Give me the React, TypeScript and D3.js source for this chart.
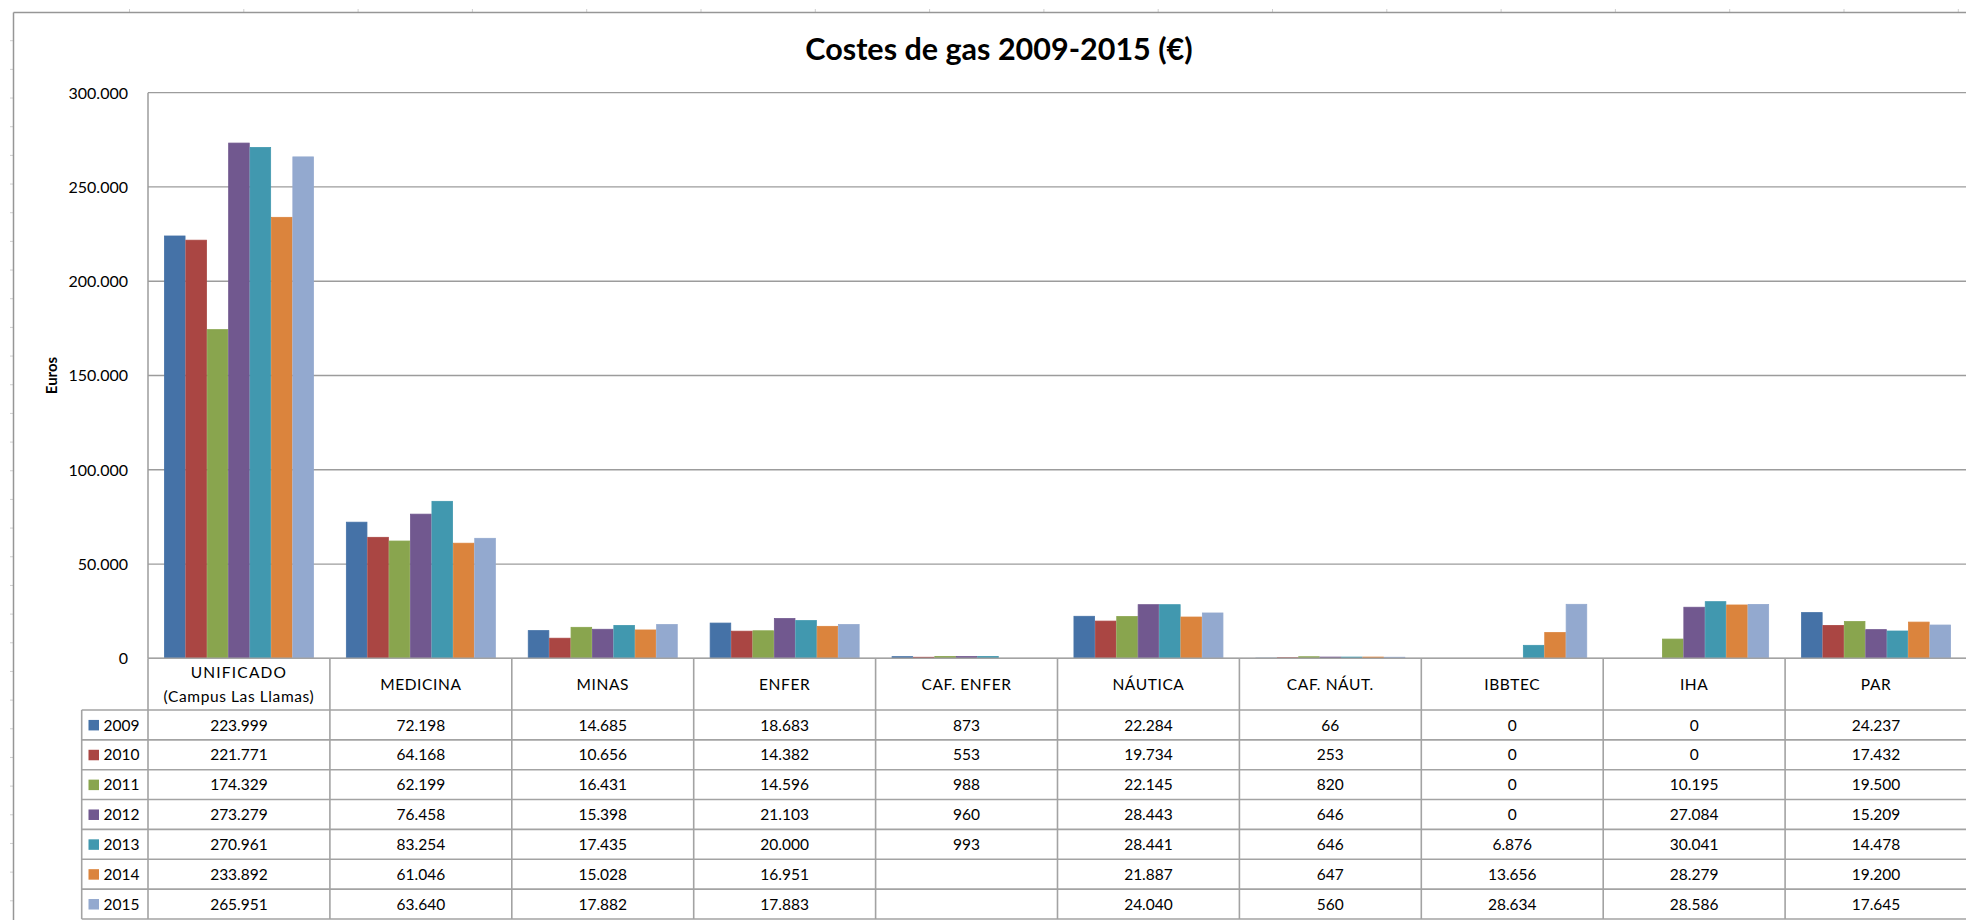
import React from "react";
import * as d3 from "d3";

const categories = [
  "UNIFICADO\n(Campus Las Llamas)",
  "MEDICINA",
  "MINAS",
  "ENFER",
  "CAF. ENFER",
  "NÁUTICA",
  "CAF. NÁUT.",
  "IBBTEC",
  "IHA",
  "PAR",
];
const years = ["2009", "2010", "2011", "2012", "2013", "2014", "2015"];
const values2009 = [223999, 72198, 14685, 18683, 873, 22284, 66, 0, 0, 24237];
const values2010 = [221771, 64168, 10656, 14382, 553, 19734, 253, 0, 0, 17432];
const values2011 = [174329, 62199, 16431, 14596, 988, 22145, 820, 0, 10195, 19500];
const values2012 = [273279, 76458, 15398, 21103, 960, 28443, 646, 0, 27084, 15209];
const values2013 = [270961, 83254, 17435, 20000, 993, 28441, 646, 6876, 30041, 14478];
const values2014 = [233892, 61046, 15028, 16951, null, 21887, 647, 13656, 28279, 19200];
const values2015 = [265951, 63640, 17882, 17883, null, 24040, 560, 28634, 28586, 17645];
const seriesValues: (number | null)[][] = [
  values2009, values2010, values2011, values2012, values2013, values2014, values2015,
];
const seriesColors = ["#4572A7", "#AA4643", "#89A54E", "#71588F", "#4198AF", "#DB843D", "#93A9CF"];
const yTickValues = [0, 50000, 100000, 150000, 200000, 250000, 300000];
const title = "Costes de gas 2009-2015 (€)";
const yTitle = "Euros";

const W = 1966;
const H = 920;
const plotLeft = 148;
const plotRight = 1967;
const plotTop = 92.7;
const plotBottom = 658.3;
const tableLeft = 81.7;
const headerBottom = 710;
const rowH = 29.85;
const FONT = "Lato, 'Open Sans', sans-serif";
const gridColor = "#9c9c9c";
const tableColor = "#a3a3a3";

const esLocale = d3.formatLocale({
  decimal: ",",
  thousands: ".",
  grouping: [3],
  currency: ["", "€"],
});
const fmt = esLocale.format(",d");

export default function App() {
  const x = d3.scaleBand<string>().domain(categories).range([plotLeft, plotRight]).padding(0);
  const xInner = d3
    .scaleBand<string>()
    .domain(years)
    .range([0, x.bandwidth()])
    .paddingInner(0)
    .paddingOuter(0.75);
  const y = d3.scaleLinear().domain([0, 300000]).range([plotBottom, plotTop]);

  const tableBottom = headerBottom + rowH * years.length;

  // spreadsheet background ticks
  const colTicks = d3.range(0, 17).map((k) => 129.5 + k * 114.3);
  const rowTicks = d3.range(0, 32).map((k) => 40.7 + k * 28.67).filter((v) => v < H);

  return (
    <svg
      width={W}
      height={H}
      style={{ position: "absolute", left: 0, top: 0, background: "#fff" }}
      fontFamily={FONT}
    >
      <rect x={0} y={0} width={W} height={H} fill="#fff" />
      {colTicks.map((cx, i) => (
        <line key={"ct" + i} x1={cx} x2={cx} y1={9} y2={12.5} stroke="#cfcfcf" strokeWidth={1} />
      ))}
      {rowTicks.map((ry, i) => (
        <line key={"rt" + i} x1={10} x2={13.5} y1={ry} y2={ry} stroke="#cfcfcf" strokeWidth={1} />
      ))}
      {/* chart border */}
      <line x1={13.5} x2={W} y1={12.5} y2={12.5} stroke="#969696" strokeWidth={1.5} />
      <line x1={13.5} x2={13.5} y1={12.5} y2={H} stroke="#969696" strokeWidth={1.5} />

      {/* title */}
      <text x={999} y={59.5} textAnchor="middle" fontSize={30.5} fontWeight={700} fill="#000">
        {title}
      </text>

      {/* gridlines */}
      {yTickValues.map((t) => (
        <line
          key={"g" + t}
          x1={plotLeft}
          x2={plotRight}
          y1={y(t)}
          y2={y(t)}
          stroke={gridColor}
          strokeWidth={1.3}
        />
      ))}
      <line x1={plotLeft} x2={plotLeft} y1={plotTop} y2={plotBottom} stroke={gridColor} strokeWidth={1.5} />

      {/* y tick labels */}
      {yTickValues.map((t) => (
        <text
          key={"yl" + t}
          x={128}
          y={y(t) + 5.8}
          textAnchor="end"
          fontSize={16}
          fill="#000"
        >
          {fmt(t)}
        </text>
      ))}
      <text
        transform={`translate(${57},${(plotTop + plotBottom) / 2}) rotate(-90)`}
        textAnchor="middle"
        fontSize={15}
        fontWeight={700}
        fill="#000"
      >
        {yTitle}
      </text>

      {/* bars */}
      {categories.map((c, ci) => (
        <g key={"c" + ci} transform={`translate(${x(c)},0)`}>
          {years.map((yr, si) => {
            const v = seriesValues[si][ci];
            if (v === null || v === 0) return null;
            const y0 = y(0);
            const y1 = y(v);
            return (
              <rect
                key={yr}
                x={xInner(yr)! + 0.4}
                y={y1}
                width={xInner.bandwidth() - 0.8}
                height={Math.max(0.01, y0 - y1)}
                fill={seriesColors[si]}
                stroke={seriesColors[si]}
                strokeWidth={0.8}
              />
            );
          })}
        </g>
      ))}

      {/* table grid */}
      <line x1={plotLeft} x2={W} y1={plotBottom} y2={plotBottom} stroke={tableColor} strokeWidth={1.6} />
      {years.map((yr, i) => (
        <line
          key={"hr" + yr}
          x1={tableLeft}
          x2={W}
          y1={headerBottom + i * rowH}
          y2={headerBottom + i * rowH}
          stroke={tableColor}
          strokeWidth={1.6}
        />
      ))}
      <line x1={tableLeft} x2={W} y1={tableBottom} y2={tableBottom} stroke={tableColor} strokeWidth={1.6} />
      <line x1={tableLeft} x2={tableLeft} y1={headerBottom} y2={tableBottom} stroke={tableColor} strokeWidth={1.6} />
      {categories.map((c, ci) => (
        <line
          key={"vl" + ci}
          x1={x(c)!}
          x2={x(c)!}
          y1={plotBottom}
          y2={tableBottom}
          stroke={tableColor}
          strokeWidth={1.6}
        />
      ))}

      {/* header labels */}
      {categories.map((c, ci) => {
        const lines = c.split("\n");
        const cx = x(c)! + x.bandwidth() / 2;
        const mid = (plotBottom + headerBottom) / 2;
        const lh = 24;
        return (
          <text key={"h" + ci} textAnchor="middle" fontSize={15.5} fill="#000">
            {lines.map((ln, li) => (
              <tspan
                key={li}
                x={cx}
                y={mid + (li - (lines.length - 1) / 2) * lh + 5.5}
                letterSpacing={li === 0 && lines.length > 1 ? 1.2 : 0.6}
              >
                {ln}
              </tspan>
            ))}
          </text>
        );
      })}

      {/* legend keys & values */}
      {years.map((yr, si) => {
        const rc = headerBottom + si * rowH + rowH / 2;
        return (
          <g key={"row" + yr}>
            <rect x={88.5} y={rc - 5} width={10.5} height={10.5} fill={seriesColors[si]} />
            <text x={103.5} y={rc + 5.6} fontSize={15.5} fill="#000">
              {yr}
            </text>
            {categories.map((c, ci) => {
              const v = seriesValues[si][ci];
              return (
                <text
                  key={"v" + ci}
                  x={x(c)! + x.bandwidth() / 2}
                  y={rc + 5.6}
                  textAnchor="middle"
                  fontSize={15.5}
                  fill="#000"
                >
                  {v === null ? "" : fmt(v)}
                </text>
              );
            })}
          </g>
        );
      })}
    </svg>
  );
}
